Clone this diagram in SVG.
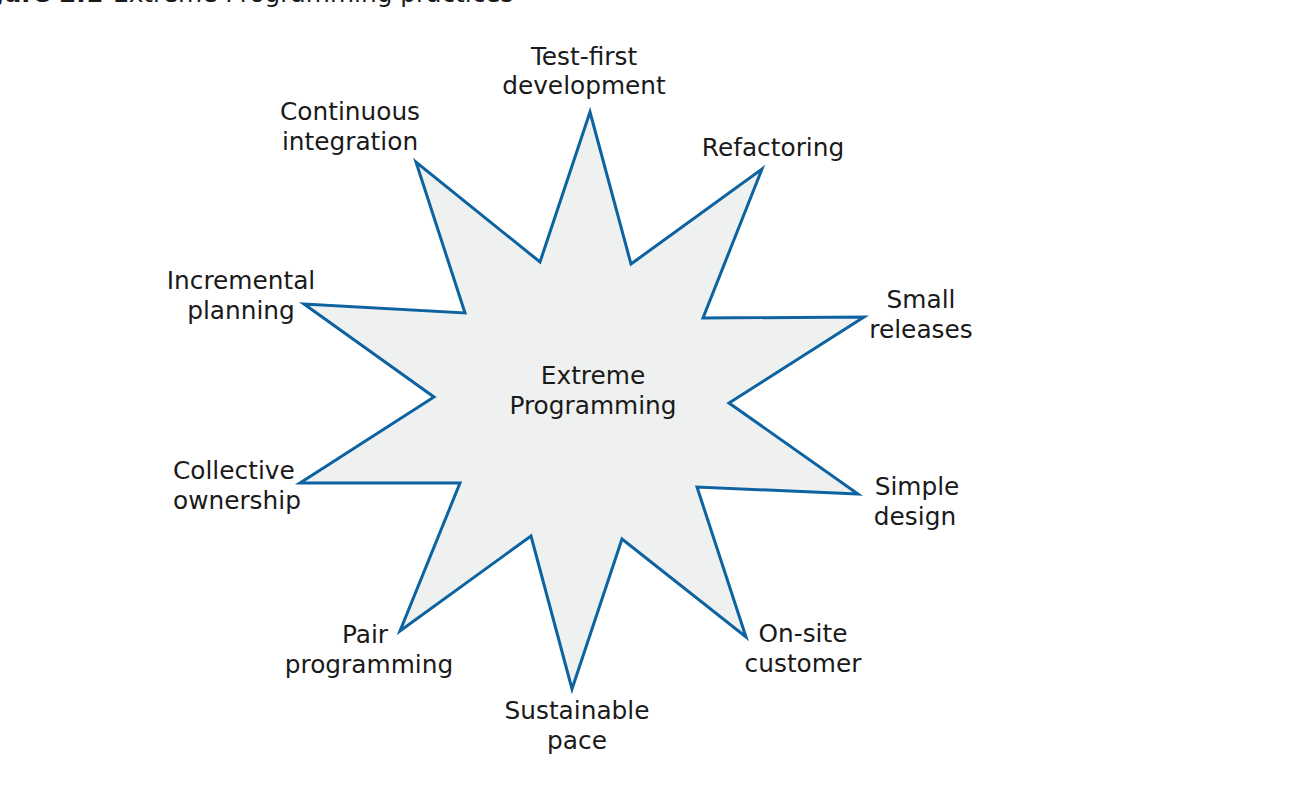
<svg xmlns="http://www.w3.org/2000/svg" width="1292" height="804" viewBox="0 0 1292 804">
<style>
text{font-family:"DejaVu Sans",Verdana,sans-serif;font-size:24.8px;fill:#1a1a1a;text-anchor:middle}
.cap{text-anchor:start}
.capb{text-anchor:end;font-weight:bold}
.star{fill:#eff0f0;stroke:#0d62a0;stroke-width:3;stroke-linejoin:miter}
</style>
<rect width="1292" height="804" fill="#ffffff"/>
<g id="caption">
<text class="capb" x="103" y="2">Figure 2.1</text>
<text class="cap" x="113" y="2">Extreme Programming practices</text>
</g>
<g id="star">
<polygon class="star" points="590,112 631,264 762,169 703,318 864,317 729,403 858,494 697,487 746,637 622,539 572,689 531,536 400,631 460,483 300,483 434,397 304,304 465,313 416,162 540,262"/>
</g>
<g id="center"><text x="593" y="384">Extreme</text><text x="593" y="414">Programming</text></g>
<g id="test-first"><text x="584" y="65">Test-first</text><text x="584" y="94">development</text></g>
<g id="refactoring"><text x="773" y="156">Refactoring</text></g>
<g id="small-releases"><text x="921" y="308">Small</text><text x="921" y="338">releases</text></g>
<g id="simple-design"><text x="917" y="495">Simple</text><text x="915" y="525">design</text></g>
<g id="on-site-customer"><text x="803" y="642">On-site</text><text x="803" y="672">customer</text></g>
<g id="sustainable-pace"><text x="577" y="719">Sustainable</text><text x="577" y="749">pace</text></g>
<g id="pair-programming"><text x="365" y="643">Pair</text><text x="369" y="673">programming</text></g>
<g id="collective-ownership"><text class="cap" x="173" y="479">Collective</text><text class="cap" x="173" y="509">ownership</text></g>
<g id="incremental-planning"><text x="241" y="289">Incremental</text><text x="241" y="319">planning</text></g>
<g id="continuous-integration"><text x="350" y="120">Continuous</text><text x="350" y="150">integration</text></g>
<g id="connectors"></g>
</svg>
